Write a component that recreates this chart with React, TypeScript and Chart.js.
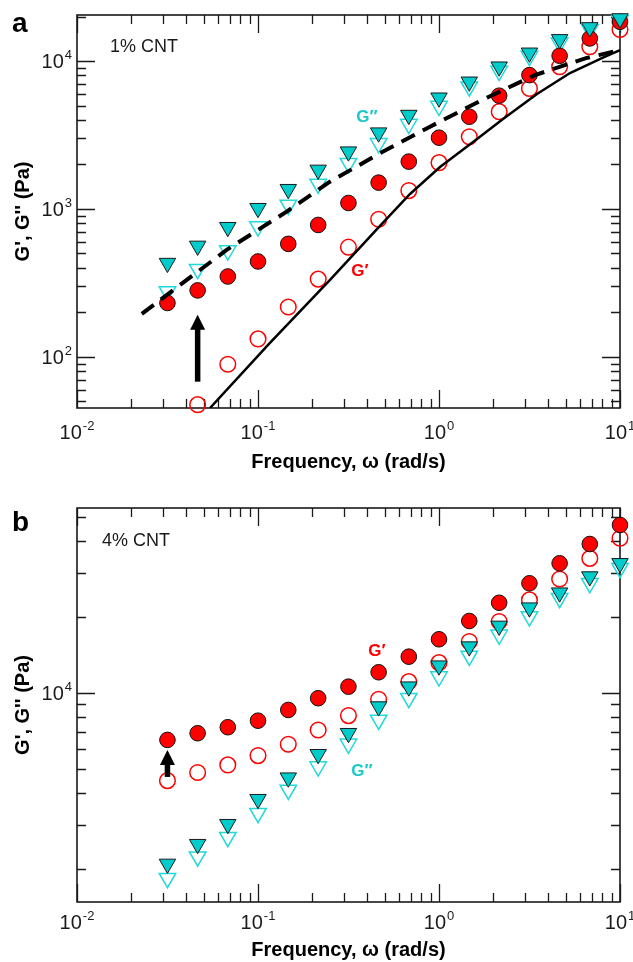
import React, { useEffect, useRef } from 'react';
import { Chart, registerables } from 'chart.js';

Chart.register(...registerables);

const FONT = '"Liberation Sans", Arial, Helvetica, sans-serif';

// ---------- data ----------
const freq = [0.0316, 0.0464, 0.0681, 0.1, 0.147, 0.215, 0.316, 0.464, 0.681, 1, 1.47, 2.15, 3.16, 4.64, 6.81, 10];

// Panel a: 1% CNT
const aGpFilled = [231, 281, 349, 441, 580, 779, 1097, 1506, 2089, 3033, 4205, 5833, 8041, 10860, 14230, 18440];
const aGpOpen = [null, 47.4, 89, 132, 217, 335, 551, 852, 1330, 2055, 3080, 4548, 6534, 9155, 12500, 16370];
const aGppFilled = [430, 562, 752, 1011, 1359, 1836, 2439, 3280, 4315, 5650, 7244, 9160, 11380, 14030, 16900, 19420];
const aGppOpen = [276, 391, 523, 759, 1064, 1475, 2037, 2780, 3753, 4966, 6710, 8560, 10810, 13300, 16370, 18920];
const aFitGppFreq = [0.0228, 0.0671, 0.144, 0.244, 0.453, 0.892, 1.685, 3.39, 6.49, 10];
const aFitGpp = [195, 528, 959, 1500, 2317, 3597, 5370, 8040, 10477, 11870];
const aFitGpFreq = [0.0543, 0.1164, 0.25, 0.472, 0.692, 1.013, 1.622, 2.258, 3.478, 5.295, 8.05, 10];
const aFitGp = [45, 124, 331, 767, 1262, 1921, 2972, 4055, 5984, 8299, 10560, 11866];

// Panel b: 4% CNT
const bGpFilled = [6510, 6920, 7310, 7760, 8560, 9530, 10590, 12080, 13930, 16330, 19300, 22800, 27240, 32700, 39000, 46420];
const bGpOpen = [4487, 4830, 5180, 5640, 6256, 7130, 8130, 9440, 11090, 13190, 15990, 19200, 23400, 28330, 34200, 41100];
const bGppFilled = [2096, 2510, 3013, 3787, 4610, 5710, 6920, 8830, 10590, 12830, 15270, 18450, 21800, 25000, 28970, 32700];
const bGppOpen = [1840, 2240, 2675, 3333, 4120, 5100, 6280, 7810, 9530, 11610, 14030, 17000, 20090, 23770, 27240, 31260];

// tick labels (powers of ten)
const xTickExps = [-2, -1, 0, 1];
const aYTickExps = [2, 3, 4];
const bYTickExps = [4];

// text
const xTitle = 'Frequency, \u03c9 (rad/s)';
const yTitle = "G', G'' (Pa)";

// ---------- styles ----------
const RED = '#ff0000';
const CYAN = '#00cccc';
const CYAN_LIGHT = '#22d8d8';

const pts = (xs: number[], ys: (number | null)[]) =>
  xs.map((x, i) => ({ x, y: ys[i] })).filter((p) => p.y !== null);

function makeDatasets(gpF: number[], gpO: (number | null)[], gppF: number[], gppO: number[], fits: any[]) {
  const ds: any[] = [...fits];
  ds.push({
    data: pts(freq, gppF), showLine: false, pointStyle: 'triangle', pointRotation: 180,
    pointRadius: 9.5, pointBackgroundColor: CYAN, pointBorderColor: '#1a1a1a', pointBorderWidth: 1, clip: false,
  });
  ds.push({
    data: pts(freq, gpF), showLine: false, pointStyle: 'circle',
    pointRadius: 7.8, pointBackgroundColor: RED, pointBorderColor: '#111', pointBorderWidth: 1, clip: false,
  });
  ds.push({
    data: pts(freq, gppO), showLine: false, pointStyle: 'triangle', pointRotation: 180,
    pointRadius: 9.5, pointBackgroundColor: 'rgba(255,255,255,0)', pointBorderColor: CYAN_LIGHT, pointBorderWidth: 1.5, clip: false,
  });
  ds.push({
    data: pts(freq, gpO), showLine: false, pointStyle: 'circle',
    pointRadius: 7.8, pointBackgroundColor: 'rgba(255,255,255,0)', pointBorderColor: RED, pointBorderWidth: 1.5, clip: false,
  });
  return ds;
}

function drawPow(ctx: CanvasRenderingContext2D, x: number, baseline: number, exp: number, align: 'center' | 'right') {
  const base = '10';
  const ex = String(exp);
  ctx.font = `20px ${FONT}`;
  const wb = ctx.measureText(base).width;
  ctx.font = `13px ${FONT}`;
  const we = ctx.measureText(ex).width;
  const total = wb + we + 1;
  const x0 = align === 'center' ? x - total / 2 : x - total;
  ctx.textAlign = 'left';
  ctx.textBaseline = 'alphabetic';
  ctx.fillStyle = '#1a1a1a';
  ctx.font = `20px ${FONT}`;
  ctx.fillText(base, x0, baseline);
  ctx.font = `13px ${FONT}`;
  ctx.fillText(ex, x0 + wb + 1, baseline - 9);
}

const decorPlugin = {
  id: 'decor',
  beforeDatasetsDraw(chart: any, _args: any, opts: any) {
    const { ctx, chartArea: ca, scales } = chart;
    const xs = scales.x, ys = scales.y;
    ctx.save();
    ctx.strokeStyle = '#1a1a1a';
    ctx.lineWidth = 1.3;
    const ticks = (scale: any, horizontal: boolean) => {
      const lo = Math.floor(Math.log10(scale.min));
      const hi = Math.ceil(Math.log10(scale.max));
      for (let e = lo; e <= hi; e++) {
        for (let k = 1; k <= 9; k++) {
          const v = k * Math.pow(10, e);
          if (v < scale.min * 0.999 || v > scale.max * 1.001) continue;
          const len = k === 1 ? 18 : 9;
          const p = Math.round(scale.getPixelForValue(v)) + 0.5;
          ctx.beginPath();
          if (horizontal) {
            ctx.moveTo(p, ca.bottom); ctx.lineTo(p, ca.bottom - len);
            ctx.moveTo(p, ca.top); ctx.lineTo(p, ca.top + len);
          } else {
            ctx.moveTo(ca.left, p); ctx.lineTo(ca.left + len, p);
            ctx.moveTo(ca.right, p); ctx.lineTo(ca.right - len, p);
          }
          ctx.stroke();
        }
      }
    };
    ticks(xs, true);
    ticks(ys, false);
    ctx.lineWidth = 1.6;
    ctx.strokeRect(ca.left, ca.top, ca.right - ca.left, ca.bottom - ca.top);
    ctx.restore();
  },
  afterDatasetsDraw(chart: any, _args: any, opts: any) {
    const { ctx, scales } = chart;
    const a = opts.arrow;
    if (!a) return;
    const px = scales.x.getPixelForValue(a.x);
    const yb = scales.y.getPixelForValue(a.from);
    const yt = scales.y.getPixelForValue(a.to);
    const headL = 15, headW = 15, shaftW = 5.5;
    ctx.save();
    ctx.fillStyle = '#000';
    ctx.fillRect(px - shaftW / 2, yt + headL - 1, shaftW, yb - (yt + headL - 1));
    ctx.beginPath();
    ctx.moveTo(px, yt);
    ctx.lineTo(px - headW / 2, yt + headL);
    ctx.lineTo(px + headW / 2, yt + headL);
    ctx.closePath();
    ctx.fill();
    ctx.restore();
  },
  afterDraw(chart: any, _args: any, opts: any) {
    const { ctx, chartArea: ca, scales } = chart;
    ctx.save();
    // tick labels
    for (const e of opts.xExps) {
      drawPow(ctx, scales.x.getPixelForValue(Math.pow(10, e)), ca.bottom + opts.xLabelDy, e, 'center');
    }
    for (const e of opts.yExps) {
      drawPow(ctx, ca.left - 5, scales.y.getPixelForValue(Math.pow(10, e)) + 7, e, 'right');
    }
    // panel letter
    ctx.fillStyle = '#000';
    ctx.textAlign = 'left';
    ctx.textBaseline = 'alphabetic';
    ctx.font = `bold 28px ${FONT}`;
    ctx.fillText(opts.letter, 12, opts.letterY);
    // sample label
    ctx.font = `18px ${FONT}`;
    ctx.fillStyle = '#1a1a1a';
    ctx.textBaseline = 'middle';
    ctx.fillText(opts.sample, ca.left + opts.sampleDx, ca.top + opts.sampleDy);
    // series annotations
    ctx.textAlign = 'center';
    ctx.font = `bold 17px ${FONT}`;
    for (const n of opts.notes) {
      ctx.fillStyle = n.color;
      ctx.fillText(n.text, scales.x.getPixelForValue(n.x), scales.y.getPixelForValue(n.y));
    }
    ctx.restore();
  },
};

function buildConfig(p: any) {
  return {
    type: 'scatter',
    data: { datasets: p.datasets },
    plugins: [decorPlugin],
    options: {
      animation: false,
      responsive: false,
      devicePixelRatio: 1,
      events: [],
      layout: { padding: { left: 0, right: 13, top: p.padTop, bottom: 0 } },
      scales: {
        x: {
          type: 'logarithmic', min: 0.01, max: 10,
          grid: { display: false }, border: { display: false },
          ticks: { display: false },
          title: { display: true, text: xTitle, color: '#000', font: { family: FONT, size: 20, weight: 'bold' }, padding: { top: 0, bottom: p.xTitlePad } },
          afterFit: (s: any) => { s.height = p.xHeight; },
        },
        y: {
          type: 'logarithmic', min: p.ymin, max: p.ymax,
          grid: { display: false }, border: { display: false },
          ticks: { display: false },
          title: { display: true, text: yTitle, color: '#000', font: { family: FONT, size: 20, weight: 'bold' }, padding: { top: 11, bottom: 0 } },
          afterFit: (s: any) => { s.width = 77; },
        },
      },
      plugins: {
        legend: { display: false },
        tooltip: { enabled: false },
        decor: p.decor,
      },
    },
  };
}

const panelA = {
  height: 480, padTop: 15, xHeight: 72, xTitlePad: 6, ymin: 45, ymax: 20500,
  datasets: makeDatasets(aGpFilled, aGpOpen, aGppFilled, aGppOpen, [
    { data: pts(aFitGppFreq, aFitGpp), showLine: true, borderColor: '#000', borderWidth: 4, borderDash: [15, 9], pointRadius: 0, fill: false },
    { data: pts(aFitGpFreq, aFitGp), showLine: true, borderColor: '#000', borderWidth: 2.5, pointRadius: 0, fill: false },
  ]),
  decor: {
    xExps: xTickExps, yExps: aYTickExps, xLabelDy: 31,
    letter: 'a', letterY: 32, sample: '1% CNT', sampleDx: 33, sampleDy: 32,
    arrow: { x: 0.0464, from: 67.8, to: 192 },
    notes: [
      { text: 'G\u2033', x: 0.40, y: 4190, color: '#1cc8c8' },
      { text: 'G\u2032', x: 0.366, y: 381, color: RED },
    ],
  },
};

const panelB = {
  height: 482, padTop: 28, xHeight: 60, xTitlePad: 0, ymin: 1480, ymax: 54200,
  datasets: makeDatasets(bGpFilled, bGpOpen, bGppFilled, bGppOpen, []),
  decor: {
    xExps: xTickExps, yExps: bYTickExps, xLabelDy: 27,
    letter: 'b', letterY: 51, sample: '4% CNT', sampleDx: 25, sampleDy: 33,
    arrow: { x: 0.0316, from: 4642, to: 5940 },
    notes: [
      { text: 'G\u2032', x: 0.4545, y: 14620, color: RED },
      { text: 'G\u2033', x: 0.3755, y: 4881, color: '#1cc8c8' },
    ],
  },
};

function Panel({ cfg, top }: { cfg: any; top: number }) {
  const ref = useRef<HTMLCanvasElement>(null);
  useEffect(() => {
    const chart = new Chart(ref.current as HTMLCanvasElement, buildConfig(cfg) as any);
    return () => chart.destroy();
  }, []);
  return (
    <canvas
      ref={ref}
      width={633}
      height={cfg.height}
      style={{ position: 'absolute', left: 0, top, width: 633, height: cfg.height }}
    />
  );
}

export default function App() {
  return (
    <div style={{ position: 'fixed', left: 0, top: 0, width: 633, height: 962, background: '#fff', overflow: 'hidden' }}>
      <Panel cfg={panelA} top={0} />
      <Panel cfg={panelB} top={480} />
    </div>
  );
}
